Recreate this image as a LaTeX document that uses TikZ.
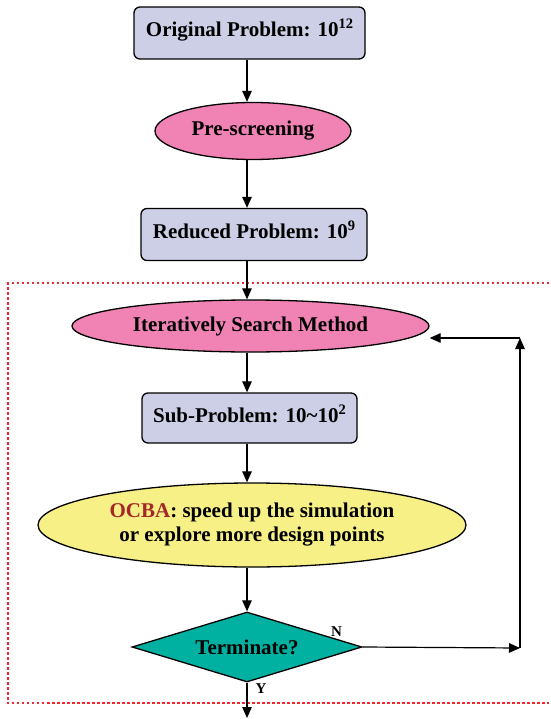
\documentclass[tikz,border=0pt]{standalone}
\usepackage{fontspec}
\setmainfont{Liberation Serif}
\usetikzlibrary{shapes.geometric,arrows.meta}
\definecolor{boxfill}{RGB}{204,207,230}
\definecolor{pinkfill}{RGB}{240,130,180}
\definecolor{yellowfill}{RGB}{247,240,135}
\definecolor{tealfill}{RGB}{0,176,160}
\definecolor{ocbared}{RGB}{165,40,40}
\definecolor{dotred}{RGB}{238,40,45}
\newcommand{\myexp}[1]{\raisebox{8pt}{\fontsize{14.5}{14.5}\selectfont #1}}
\begin{document}
\begin{tikzpicture}[x=1pt,y=-1pt,
  txt/.style={font=\fontsize{21}{24}\selectfont\bfseries},
  probbox/.style={txt, draw, line width=1.3pt, rounded corners=6pt, fill=boxfill,
    inner sep=0pt, text height=16pt, text depth=8pt},
  ovalnode/.style={txt, ellipse, draw, line width=1.3pt, inner sep=0pt},
  decision/.style={txt, diamond, draw, line width=1.3pt, fill=tealfill, inner sep=0pt, aspect=3.3},
  yn/.style={font=\fontsize{15}{15}\selectfont\bfseries, inner sep=0pt},
  arr/.style={line width=1.2pt, -{Triangle[length=11pt,width=9.5pt]}},
  region/.style={draw=dotred, line width=2.6pt, dash pattern=on 2.5pt off 2.5pt}
]
\useasboundingbox (0,0) rectangle (550,719);

\coordinate (ax) at (247,0);

\draw[region] (549,283) -- (8,283) -- (8,703) -- (549,703);

\node[probbox, minimum width=231pt, minimum height=52pt] (orig) at (249.5,33)
  {Original Problem: 10\myexp{12}};
\node[ovalnode, fill=pinkfill, minimum width=196pt, minimum height=57pt] (pre) at (253,131)
  {Pre-screening};
\node[probbox, minimum width=226pt, minimum height=52pt] (red) at (254,234.5)
  {Reduced Problem: 10\myexp{9}};
\node[ovalnode, fill=pinkfill, minimum width=357pt, minimum height=52pt] (iter) at (250.5,326)
  {Iteratively Search Method};
\node[probbox, minimum width=215pt, minimum height=50pt] (sub) at (249.5,418)
  {Sub-Problem: 10\textasciitilde10\myexp{2}};
\node[ovalnode, fill=yellowfill, minimum width=428pt, minimum height=84pt, align=center] (ocba) at (252,525)
  {\textcolor{ocbared}{OCBA}: speed up the simulation\\or explore more design points};
\node[decision, minimum width=230pt, minimum height=70pt] (term) at (247,647)
  {\raisebox{-1pt}{Terminate?}};

\node[yn] (nlab) at (336.5,631.5) {N};
\node[yn] (ylab) at (261,688.5) {Y};

\coordinate (c1) at (520,648);
\coordinate (c2) at (520,338);
\coordinate (endpt) at (247,718);

\draw[arr] (orig.south -| ax) -- (pre.north -| ax);
\draw[arr] (pre.south -| ax) -- (red.north -| ax);
\draw[arr] (red.south -| ax) -- (iter.north -| ax);
\draw[arr] (iter.south -| ax) -- (sub.north -| ax);
\draw[arr] (sub.south -| ax) -- (ocba.north -| ax);
\draw[arr] (ocba.south -| ax) -- (term.north);
\draw[arr] (term.south) -- (endpt);
\draw[arr] (term.east) -- (c1);
\draw[arr] (c1) -- (c2);
\draw[arr] (c2) -- (c2 -| iter.east);
\end{tikzpicture}
\end{document}
